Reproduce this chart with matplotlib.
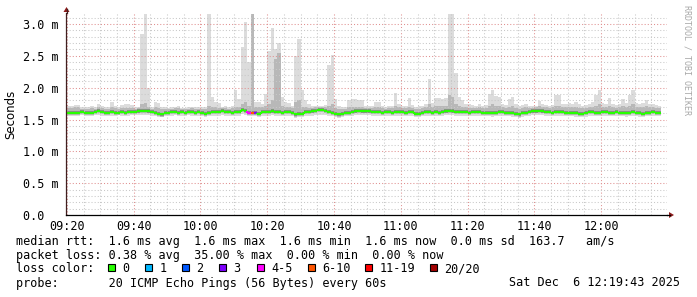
import numpy as np
import matplotlib
matplotlib.use("Agg")
import matplotlib.pyplot as plt
from matplotlib.collections import LineCollection
from matplotlib.ticker import MultipleLocator
from matplotlib.patches import Rectangle

W, H = 697, 297

# ---------------- data ----------------
x_tick_minutes = [0, 20, 40, 60, 80, 100, 120, 140, 160]
x_tick_labels = ["09:20", "09:40", "10:00", "10:20", "10:40", "11:00", "11:20", "11:40", "12:00"]
y_tick_values = [0.0, 0.5, 1.0, 1.5, 2.0, 2.5, 3.0]
y_tick_labels = ["0.0  ", "0.5 m", "1.0 m", "1.5 m", "2.0 m", "2.5 m", "3.0 m"]

# per-minute samples (ms), 09:20 .. 12:17
smoke_max = [
    1.71, 1.71, 1.73, 1.73, 1.70, 1.70, 1.70, 1.71, 1.70, 1.75,
    1.72, 1.70, 1.70, 1.77, 1.71, 1.70, 1.73, 1.74, 1.74, 1.73,
    1.70, 1.70, 2.84, 3.15, 2.00, 1.70, 1.78, 1.76, 1.70, 1.70,
    1.68, 1.69, 1.70, 1.71, 1.68, 1.68, 1.69, 1.70, 1.70, 1.69,
    1.70, 1.70, 3.15, 1.86, 1.78, 1.76, 1.70, 1.71, 1.70, 1.72,
    1.97, 1.83, 2.64, 3.03, 2.40, 3.15, 1.77, 1.77, 1.75, 1.90,
    2.57, 2.94, 2.60, 2.70, 1.85, 1.78, 1.76, 1.72, 2.49, 2.77,
    1.96, 1.81, 1.74, 1.72, 1.71, 1.72, 1.72, 1.73, 2.36, 2.52,
    1.83, 1.72, 1.70, 1.69, 1.80, 1.82, 1.82, 1.81, 1.80, 1.72,
    1.71, 1.72, 1.78, 1.78, 1.72, 1.70, 1.71, 1.72, 1.91, 1.74,
    1.72, 1.71, 1.84, 1.73, 1.70, 1.71, 1.72, 1.74, 2.14, 1.76,
    1.84, 1.84, 1.83, 1.84, 3.15, 3.15, 2.23, 1.86, 1.80, 1.75,
    1.74, 1.73, 1.72, 1.74, 1.72, 1.73, 1.90, 1.96, 1.87, 1.86,
    1.74, 1.73, 1.82, 1.86, 1.74, 1.72, 1.73, 1.74, 1.72, 1.71,
    1.72, 1.79, 1.74, 1.73, 1.72, 1.73, 1.88, 1.88, 1.75, 1.74,
    1.76, 1.75, 1.78, 1.74, 1.72, 1.73, 1.74, 1.77, 1.88, 1.96,
    1.76, 1.74, 1.84, 1.75, 1.73, 1.74, 1.83, 1.76, 1.88, 1.96,
    1.76, 1.75, 1.76, 1.80, 1.74, 1.75, 1.73, 1.72,
]

smoke_p90 = [
    1.68, 1.68, 1.69, 1.69, 1.67, 1.67, 1.67, 1.68, 1.67, 1.69,
    1.68, 1.67, 1.67, 1.69, 1.68, 1.67, 1.68, 1.68, 1.68, 1.68,
    1.67, 1.68, 1.74, 1.76, 1.70, 1.67, 1.69, 1.68, 1.66, 1.67,
    1.66, 1.67, 1.68, 1.68, 1.66, 1.66, 1.67, 1.68, 1.67, 1.67,
    1.67, 1.67, 1.72, 1.70, 1.69, 1.68, 1.68, 1.68, 1.67, 1.68,
    1.70, 1.69, 1.74, 1.78, 1.72, 3.15, 1.70, 1.69, 1.69, 1.72,
    1.75, 1.80, 2.45, 2.55, 1.72, 1.69, 1.69, 1.68, 1.78, 1.80,
    1.70, 1.69, 1.68, 1.68, 1.69, 1.70, 1.70, 1.69, 1.72, 1.74,
    1.68, 1.67, 1.66, 1.66, 1.69, 1.70, 1.70, 1.70, 1.69, 1.68,
    1.68, 1.68, 1.69, 1.69, 1.68, 1.67, 1.68, 1.68, 1.72, 1.69,
    1.68, 1.68, 1.70, 1.68, 1.67, 1.67, 1.68, 1.69, 1.74, 1.70,
    1.72, 1.72, 1.71, 1.72, 1.88, 1.85, 1.75, 1.72, 1.70, 1.69,
    1.68, 1.68, 1.68, 1.69, 1.68, 1.68, 1.72, 1.74, 1.72, 1.71,
    1.69, 1.68, 1.70, 1.71, 1.68, 1.67, 1.68, 1.69, 1.68, 1.68,
    1.69, 1.71, 1.70, 1.69, 1.68, 1.69, 1.72, 1.72, 1.70, 1.69,
    1.69, 1.69, 1.70, 1.68, 1.68, 1.68, 1.69, 1.70, 1.72, 1.74,
    1.70, 1.69, 1.71, 1.69, 1.68, 1.69, 1.71, 1.69, 1.72, 1.74,
    1.70, 1.69, 1.70, 1.71, 1.69, 1.69, 1.68, 1.68,
]

smoke_min = [
    1.56, 1.55, 1.56, 1.56, 1.57, 1.55, 1.56, 1.56, 1.57, 1.57,
    1.56, 1.56, 1.55, 1.56, 1.56, 1.57, 1.56, 1.55, 1.56, 1.57,
    1.57, 1.57, 1.57, 1.57, 1.57, 1.56, 1.55, 1.54, 1.54, 1.55,
    1.56, 1.56, 1.57, 1.56, 1.56, 1.56, 1.57, 1.56, 1.56, 1.56,
    1.55, 1.54, 1.55, 1.56, 1.56, 1.56, 1.57, 1.56, 1.56, 1.55,
    1.56, 1.56, 1.58, 1.57, 1.55, 1.55, 1.55, 1.54, 1.56, 1.56,
    1.56, 1.57, 1.56, 1.56, 1.55, 1.56, 1.56, 1.55, 1.53, 1.54,
    1.54, 1.56, 1.56, 1.56, 1.57, 1.57, 1.57, 1.57, 1.56, 1.55,
    1.54, 1.53, 1.54, 1.55, 1.55, 1.56, 1.57, 1.57, 1.57, 1.57,
    1.57, 1.56, 1.56, 1.56, 1.55, 1.56, 1.56, 1.55, 1.56, 1.56,
    1.56, 1.55, 1.56, 1.56, 1.54, 1.54, 1.55, 1.56, 1.56, 1.55,
    1.56, 1.55, 1.56, 1.57, 1.57, 1.57, 1.56, 1.56, 1.56, 1.56,
    1.55, 1.56, 1.56, 1.56, 1.55, 1.55, 1.55, 1.54, 1.55, 1.56,
    1.56, 1.55, 1.55, 1.54, 1.54, 1.53, 1.54, 1.55, 1.56, 1.57,
    1.57, 1.57, 1.57, 1.56, 1.56, 1.55, 1.56, 1.56, 1.56, 1.55,
    1.55, 1.55, 1.54, 1.54, 1.54, 1.54, 1.56, 1.56, 1.55, 1.55,
    1.56, 1.56, 1.55, 1.55, 1.56, 1.55, 1.55, 1.54, 1.55, 1.56,
    1.55, 1.54, 1.54, 1.55, 1.55, 1.56, 1.55, 1.55,
]

median_rtt = [
    1.61, 1.61, 1.60, 1.61, 1.62, 1.60, 1.61, 1.61, 1.62, 1.64,
    1.62, 1.61, 1.61, 1.62, 1.61, 1.61, 1.62, 1.61, 1.62, 1.62,
    1.62, 1.63, 1.64, 1.64, 1.63, 1.62, 1.61, 1.59, 1.58, 1.61,
    1.61, 1.62, 1.62, 1.61, 1.62, 1.61, 1.62, 1.62, 1.61, 1.62,
    1.61, 1.59, 1.61, 1.62, 1.62, 1.62, 1.64, 1.62, 1.62, 1.61,
    1.62, 1.62, 1.65, 1.64, 1.60, 1.60, 1.60, 1.59, 1.62, 1.62,
    1.62, 1.63, 1.62, 1.62, 1.61, 1.62, 1.62, 1.61, 1.58, 1.59,
    1.59, 1.62, 1.62, 1.63, 1.64, 1.65, 1.65, 1.64, 1.62, 1.61,
    1.59, 1.58, 1.59, 1.60, 1.61, 1.62, 1.63, 1.64, 1.63, 1.63,
    1.63, 1.62, 1.62, 1.62, 1.61, 1.62, 1.62, 1.61, 1.62, 1.62,
    1.62, 1.61, 1.62, 1.62, 1.59, 1.59, 1.60, 1.62, 1.62, 1.61,
    1.62, 1.61, 1.62, 1.63, 1.64, 1.63, 1.62, 1.62, 1.62, 1.62,
    1.61, 1.62, 1.62, 1.62, 1.61, 1.61, 1.61, 1.60, 1.61, 1.62,
    1.62, 1.61, 1.61, 1.60, 1.59, 1.58, 1.60, 1.61, 1.62, 1.63,
    1.63, 1.64, 1.63, 1.62, 1.62, 1.61, 1.62, 1.62, 1.62, 1.61,
    1.61, 1.61, 1.60, 1.59, 1.59, 1.60, 1.62, 1.62, 1.61, 1.61,
    1.62, 1.62, 1.61, 1.61, 1.62, 1.61, 1.61, 1.60, 1.61, 1.62,
    1.61, 1.60, 1.59, 1.61, 1.61, 1.62, 1.61, 1.61,
]

# lost pings (out of 20) for the samples that had loss
loss_sample_index = [54, 55, 56]
loss_sample_count = [4, 7, 3]

loss_labels = ["0", "1", "2", "3", "4-5", "6-10", "11-19", "20/20"]
loss_colors = ["#26ff00", "#00b8ff", "#0059ff", "#7e00ff", "#ff00ff", "#ff5500", "#ff0000", "#a10000"]
loss_upper = [0, 1, 2, 3, 5, 10, 19, 20]

legend_rtt = ["1.6 ms avg", "1.6 ms max", "1.6 ms min", "1.6 ms now", "0.0 ms sd", "163.7   am/s"]
legend_loss = ["0.38 % avg", "35.00 % max", "0.00 % min", "0.00 % now"]
probe_text = "20 ICMP Echo Pings (56 Bytes) every 60s"
date_text = "Sat Dec  6 12:19:43 2025"

# ---------------- figure ----------------
MONO = "DejaVu Sans Mono"
FS = 8.5

fig = plt.figure(figsize=(W / 100, H / 100), dpi=100, facecolor="white")
ax_l, ax_r, ax_t, ax_b = 66, 667, 13.2, 215
ax = fig.add_axes([ax_l / W, 1 - ax_b / H, (ax_r - ax_l) / W, (ax_b - ax_t) / H])
ax.set_facecolor("white")

n = len(median_rtt)
t = np.arange(n)
med = np.array(median_rtt)
smax = np.array(smoke_max)
smin = np.array(smoke_min)
sp90 = np.array(smoke_p90)

# smoke layers
ax.bar(t, smax - smin, bottom=smin, width=1.0, align="edge", color="#dcdcdc", linewidth=0, zorder=1)
med_lo = med - 0.035
ax.bar(t, sp90 - med_lo, bottom=med_lo, width=1.0, align="edge", color="#b8b8b8", linewidth=0, zorder=1.1)
ax.bar(t, 0.05, bottom=med - 0.02, width=1.0, align="edge", color="#8c8c8c", linewidth=0, zorder=1.2)
ax.bar(t, 0.018, bottom=med - 0.008, width=1.0, align="edge", color="#505050", linewidth=0, zorder=1.3)

# median line coloured by loss
loss_count = np.zeros(n, dtype=int)
for i, c in zip(loss_sample_index, loss_sample_count):
    loss_count[i] = c


def loss_color(c):
    for up, col in zip(loss_upper, loss_colors):
        if c <= up:
            return col
    return loss_colors[-1]


segs, cols = [], []
for i in range(n):
    col = loss_color(loss_count[i])
    if i > 0:
        segs.append([(t[i], med[i - 1]), (t[i], med[i])])
        cols.append(col)
    segs.append([(t[i], med[i]), (t[i] + 1, med[i])])
    cols.append(col)
lc = LineCollection(segs, colors=cols, linewidths=1.6, capstyle="butt", zorder=3)
ax.add_collection(lc)

ax.set_xlim(-0.28, 179.72)
ax.set_ylim(0, 3.17)

# grid
ax.xaxis.set_major_locator(MultipleLocator(20))
ax.xaxis.set_minor_locator(MultipleLocator(5))
ax.yaxis.set_major_locator(MultipleLocator(0.5))
ax.yaxis.set_minor_locator(MultipleLocator(0.1))
ax.set_xticks(x_tick_minutes)
ax.set_xticklabels(x_tick_labels, fontfamily=MONO, fontsize=FS)
ax.set_yticks(y_tick_values)
ax.set_yticklabels(y_tick_labels, fontfamily=MONO, fontsize=FS)
ax.grid(which="minor", color="#c8c8c8", linestyle=(0, (1, 2)), linewidth=0.75)
ax.grid(which="major", color="#e09090", linestyle=(0, (1, 2)), linewidth=0.75)
ax.set_axisbelow(False)
ax.tick_params(which="both", length=0)
ax.tick_params(axis="x", pad=3.5, colors="black")
ax.tick_params(axis="y", pad=5, colors="black")

for s in ["top", "right"]:
    ax.spines[s].set_visible(False)
ax.spines["left"].set_color("#402020")
ax.spines["bottom"].set_color("#000000")
ax.spines["left"].set_linewidth(0.9)
ax.spines["bottom"].set_linewidth(0.9)
ax.spines["left"].set_zorder(4)
ax.spines["bottom"].set_zorder(4)


def fx(x):
    return x / W


def fy(y):
    return 1 - y / H


# axis extensions and arrows
fig.add_artist(plt.Line2D([fx(66.5), fx(66.5)], [fy(13), fy(9)], color="#402020", lw=0.9))
fig.add_artist(plt.Line2D([fx(667), fx(670)], [fy(215), fy(215)], color="#000000", lw=0.9))
fig.add_artist(plt.Polygon([[fx(63.5), fy(12)], [fx(69.5), fy(12)], [fx(66.5), fy(7)]],
                           closed=True, color="#8b1a1a", lw=0))
fig.add_artist(plt.Polygon([[fx(669), fy(212)], [fx(669), fy(218)], [fx(674), fy(215)]],
                           closed=True, color="#8b1a1a", lw=0))

# axis title and watermark
fig.text(fx(11), fy(114), "Seconds", rotation=90, ha="center", va="center",
         fontsize=8.5, fontfamily="DejaVu Sans")
fig.text(fx(687.5), fy(60), "RRDTOOL / TOBI OETIKER", rotation=270, ha="center", va="center",
         fontsize=6, fontfamily=MONO, color="#a8a8a8")

# legend rows
row1 = "median rtt:  " + "  ".join(legend_rtt)
row2 = "packet loss: " + "  ".join(legend_loss)
row4 = "probe:       " + probe_text
for y, s in [(241, row1), (255, row2), (283, row4)]:
    fig.text(fx(16), fy(y), s, ha="left", va="center", fontsize=FS, fontfamily=MONO)
fig.text(fx(16), fy(269), "loss color:", ha="left", va="center", fontsize=FS, fontfamily=MONO)
fig.text(fx(680), fy(283), date_text, ha="right", va="center", fontsize=FS, fontfamily=MONO)

box_x = [108, 145, 182, 219, 257, 308, 365, 430]
for bx, lab, col in zip(box_x, loss_labels, loss_colors):
    fig.add_artist(Rectangle((fx(bx), fy(270.5)), 7 / W, 7 / H, facecolor=col,
                             edgecolor="black", linewidth=0.8))
    fig.text(fx(bx + 14.5), fy(269), lab, ha="left", va="center", fontsize=FS, fontfamily=MONO)

fig.savefig("out.png", dpi=100, facecolor="white")
